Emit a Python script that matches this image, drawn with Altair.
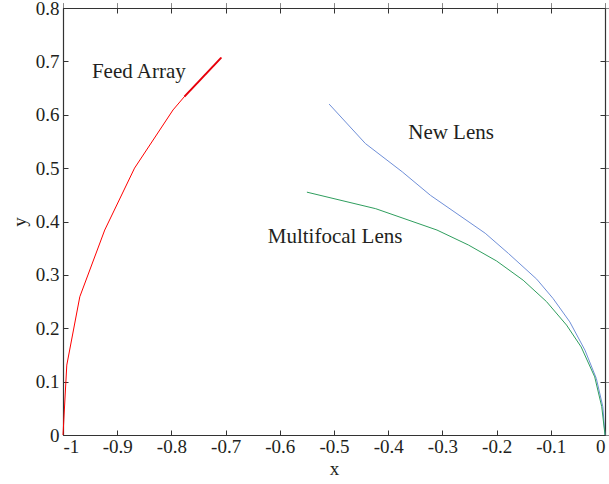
import altair as alt
import pandas as pd

# Feed Array (red)
feed_x = [-1.0, -0.993, -0.969, -0.923, -0.868, -0.797, -0.776, -0.708]
feed_y = [0.0, 0.131, 0.259, 0.384, 0.500, 0.609, 0.634, 0.707]
# thick tip of feed array
tip_x = [-0.776, -0.708]
tip_y = [0.634, 0.707]

# New Lens (blue)
new_x = [-0.509, -0.442, -0.374, -0.322, -0.221, -0.178, -0.126, -0.096, -0.065, -0.037, -0.016, -0.004, 0.0]
new_y = [0.620, 0.546, 0.493, 0.449, 0.378, 0.340, 0.292, 0.256, 0.212, 0.159, 0.106, 0.053, 0.0]

# Multifocal Lens (green)
multi_x = [-0.550, -0.423, -0.310, -0.252, -0.200, -0.151, -0.108, -0.071, -0.044, -0.019, -0.006, 0.0]
multi_y = [0.455, 0.424, 0.384, 0.356, 0.326, 0.290, 0.250, 0.206, 0.165, 0.109, 0.053, 0.0]

labels = ["Feed Array", "New Lens", "Multifocal Lens"]
label_x = [-0.860, -0.284, -0.498]
label_y = [0.680, 0.566, 0.371]

x_ticks = [-1, -0.9, -0.8, -0.7, -0.6, -0.5, -0.4, -0.3, -0.2, -0.1, 0]
y_ticks = [0, 0.1, 0.2, 0.3, 0.4, 0.5, 0.6, 0.7, 0.8]

W, H = 542, 427
FONT = "Liberation Serif"
TXT = "#231f20"

def df_line(xs, ys):
    return pd.DataFrame({"x": xs, "y": ys, "i": list(range(len(xs)))})

xs = alt.Scale(domain=[-1, 0], nice=False, zero=False)
ys = alt.Scale(domain=[0, 0.8], nice=False, zero=False)

label_expr = "replace(format(datum.value, '~g'), '\u2212', '-')"

x_main = alt.X("x:Q", scale=xs, title="x",
               axis=alt.Axis(values=x_ticks, labelExpr=label_expr, ticks=False, grid=False,
                             domainColor="#333333", domainWidth=1.2, labelFont=FONT, labelFontSize=19,
                             labelColor=TXT, labelPadding=2, titleFont=FONT, titleFontSize=19,
                             titleFontWeight="normal", titleColor=TXT, titlePadding=3))
y_main = alt.Y("y:Q", scale=ys, title="y",
               axis=alt.Axis(values=y_ticks, labelExpr=label_expr, ticks=False, grid=False,
                             domainColor="#333333", domainWidth=1.2, labelFont=FONT, labelFontSize=19,
                             labelColor=TXT, labelPadding=4, titleFont=FONT, titleFontSize=19,
                             titleFontWeight="normal", titleColor=TXT, titlePadding=6))

feed = alt.Chart(df_line(feed_x, feed_y)).mark_line(color="#ff0000", strokeWidth=1).encode(
    x=x_main, y=y_main, order="i:Q")
tip = alt.Chart(df_line(tip_x, tip_y)).mark_line(color="#e8000b", strokeWidth=2).encode(
    x=alt.X("x:Q", scale=xs), y=alt.Y("y:Q", scale=ys), order="i:Q")
newl = alt.Chart(df_line(new_x, new_y)).mark_line(color="#6f8fd8", strokeWidth=1).encode(
    x=alt.X("x:Q", scale=xs), y=alt.Y("y:Q", scale=ys), order="i:Q")
multi = alt.Chart(df_line(multi_x, multi_y)).mark_line(color="#2f9e5e", strokeWidth=1).encode(
    x=alt.X("x:Q", scale=xs), y=alt.Y("y:Q", scale=ys), order="i:Q")

text = alt.Chart(pd.DataFrame({"label": labels, "x": label_x, "y": label_y})).mark_text(
    font=FONT, fontSize=21, color=TXT, align="center", baseline="middle").encode(
    x=alt.X("x:Q", scale=xs), y=alt.Y("y:Q", scale=ys), text="label:N")

# inward tick axes (placed on opposite edges via offsets)
def tick_axis_x(orient, offset, domain):
    return alt.Axis(orient=orient, offset=offset, values=x_ticks, labels=False, title=None,
                    ticks=True, tickSize=5, tickColor="#333333", grid=False, domain=domain,
                    domainColor="#333333", domainWidth=1.2)

def tick_axis_y(orient, offset, domain):
    return alt.Axis(orient=orient, offset=offset, values=y_ticks, labels=False, title=None,
                    ticks=True, tickSize=5, tickColor="#333333", grid=False, domain=domain,
                    domainColor="#333333", domainWidth=1.2)

base_tick = alt.Chart(df_line([-1, 0], [0, 0.8])).mark_point(opacity=0)

t1 = base_tick.encode(x=alt.X("x:Q", scale=xs, axis=tick_axis_x("top", -H, False)),
                      y=alt.Y("y:Q", scale=ys, axis=tick_axis_y("right", -W, False)))
t2 = base_tick.encode(x=alt.X("x:Q", scale=xs, axis=tick_axis_x("bottom", -H, True)),
                      y=alt.Y("y:Q", scale=ys, axis=tick_axis_y("left", -W, True)))

chart = alt.layer(feed, tip, newl, multi, text, t1, t2).resolve_axis(
    x="independent", y="independent").properties(
    width=W, height=H,
    autosize=alt.AutoSizeParams(type="none"),
    padding={"left": 63, "top": 8, "right": 4, "bottom": 49},
    background="white",
).configure_view(stroke=None)

chart.save("out.html", embed_options={"renderer": "svg", "actions": False})
